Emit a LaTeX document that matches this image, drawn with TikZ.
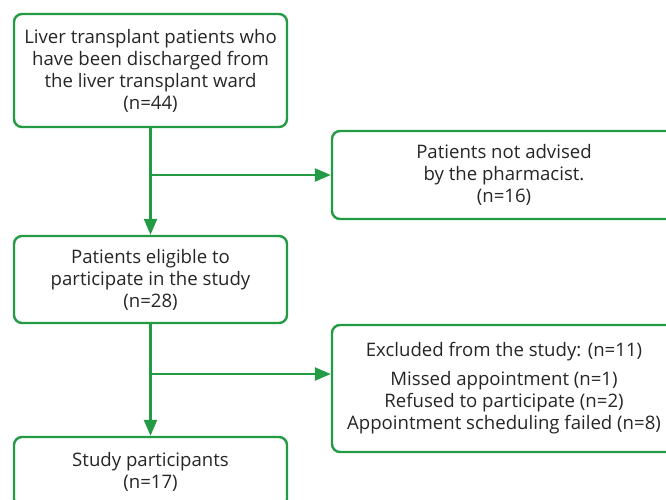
\documentclass[tikz,border=0pt]{standalone}
\usepackage{fontspec}
\setmainfont{Open Sans}
\usetikzlibrary{arrows.meta}
\definecolor{flowgreen}{HTML}{239B45}
\definecolor{txtgray}{HTML}{262626}
\begin{document}
\begin{tikzpicture}[x=1pt,y=-1pt,
  flowbox/.style={draw=flowgreen, line width=2.4pt, rounded corners=8pt, fill=white,
    align=center, text=txtgray, inner sep=0pt,
    font=\fontsize{18.6}{22}\selectfont},
  flowarrow/.style={draw=flowgreen, line width=2.4pt, -{Triangle[length=16pt,width=13pt]}}]
\useasboundingbox (0,0) rectangle (666,499);
\clip (0,0) rectangle (666,499);
\node[flowbox, minimum width=273pt, minimum height=113pt] (b1) at (150.5,70.5)
  {Liver transplant patients who\\have been discharged from\\the liver transplant ward\\(n=44)};
\node[flowbox, minimum width=344pt, minimum height=88pt] (b2) at (504,175)
  {Patients not advised\\by the pharmacist.\\(n=16)};
\node[flowbox, minimum width=273pt, minimum height=87pt] (b3) at (150.5,279.5)
  {Patients eligible to\\participate in the study\\(n=28)};
\node[flowbox, minimum width=344pt, minimum height=127pt] (b4) at (504,388.5)
  {Excluded from the study: (n=11)\\[7pt]Missed appointment (n=1)\\Refused to participate (n=2)\\Appointment scheduling failed (n=8)};
\node[flowbox, minimum width=273pt, minimum height=70pt] (b5) at (150.5,472)
  {Study participants\\(n=17)};
\coordinate (br2) at (0,374);
\draw[flowarrow] (b1.south) -- (b3.north);
\draw[flowarrow] (b1.south |- b2.west) -- (b2.west);
\draw[flowarrow] (b3.south) -- (b5.north);
\draw[flowarrow] (b3.south |- br2) -- (b4.west |- br2);
\end{tikzpicture}
\end{document}
